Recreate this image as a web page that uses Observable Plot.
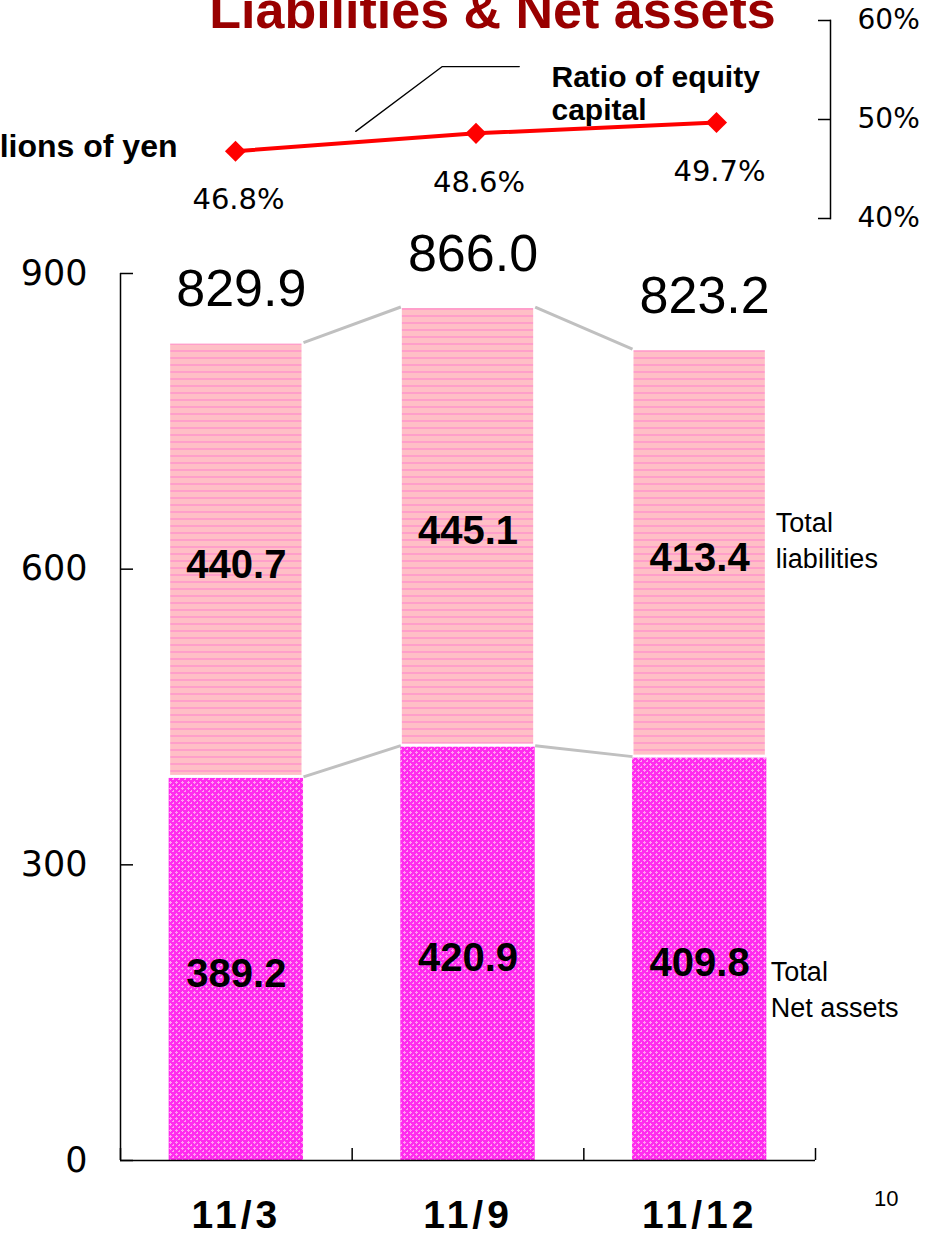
<!DOCTYPE html>
<html>
<head>
<meta charset="utf-8">
<script src="https://cdn.jsdelivr.net/npm/d3@7"></script>
<script src="https://cdn.jsdelivr.net/npm/@observablehq/plot@0.6"></script>
<style>
  html, body { margin: 0; padding: 0; background: #fff; overflow: hidden; }
  body { width: 928px; height: 1238px; position: relative; color: #000; font-family: "Liberation Sans", Arial, sans-serif; }
  #bars, #ratio { position: absolute; left: 0; top: 0; }
  #page { position: absolute; left: 874px; top: 1186px; font-size: 22px; }
</style>
</head>
<body>
<div id="bars"></div>
<div id="ratio"></div>
<div id="page">10</div>
<script>
// ---- data ----
const periods = ["11/3", "11/9", "11/12"];
const netAssets = [389.2, 420.9, 409.8];
const liabilities = [440.7, 445.1, 413.4];
const totals = [829.9, 866.0, 823.2];
const equityRatio = [46.8, 48.6, 49.7];
const yTicks = [0, 300, 600, 900];
const ratioTicks = [40, 50, 60];
const title = "Liabilities & Net assets";
const unitLabel = "Billions of yen";
const ratioLabel = "Ratio of equity\ncapital";
const liabLabel = "Total\nliabilities";
const netLabel = "Total\nNet assets";
// callout leader for the ratio label (in ratio-chart data units)
const calloutX = [0.5, 0.86, 1.18];
const calloutY = [48.8, 55.35, 55.35];

const rows = periods.map((p, i) => ({i, period: p, net: netAssets[i], liab: liabilities[i], total: totals[i]}));
const pairs = rows.slice(0, -1).map(d => ({a: d, b: rows[d.i + 1]}));
const ratioRows = periods.map((p, i) => ({i, period: p, ratio: equityRatio[i]}));
const callout = calloutX.map((x, k) => ({x, y: calloutY[k]}));
const hw = 0.29; // half bar width in category units
const bounds = d3.range(-0.5, periods.length, 1);

// ---- bar chart ----
const bars = Plot.plot({
  width: 928, height: 1238,
  marginLeft: 120, marginRight: 113, marginTop: 273, marginBottom: 78,
  style: {background: "transparent", fontFamily: "Liberation Sans, Arial, sans-serif", overflow: "visible"},
  x: {type: "linear", domain: [-0.5, periods.length - 0.5]},
  y: {domain: [0, 900]},
  marks: [
    Plot.rect(rows, {x1: d => d.i - hw, x2: d => d.i + hw, y1: 0, y2: "net", fill: "url(#netPat)"}),
    Plot.rect(rows, {x1: d => d.i - hw, x2: d => d.i + hw, y1: "net", y2: "total", fill: "url(#liabPat)", stroke: "white", strokeWidth: 3}),
    Plot.link(pairs, {x1: d => d.a.i + hw, y1: d => d.a.total, x2: d => d.b.i - hw, y2: d => d.b.total, stroke: "#c0c0c0", strokeWidth: 3}),
    Plot.link(pairs, {x1: d => d.a.i + hw, y1: d => d.a.net, x2: d => d.b.i - hw, y2: d => d.b.net, stroke: "#c0c0c0", strokeWidth: 3}),
    Plot.ruleX([-0.5], {y1: 0, y2: 900, stroke: "#000", strokeWidth: 1.5}),
    Plot.ruleY([0], {x1: -0.5, x2: periods.length - 0.5, stroke: "#000", strokeWidth: 1.5}),
    Plot.axisY({ticks: yTicks, tickSize: -13, tickPadding: 46, strokeWidth: 1.5, fontSize: 35, fontFamily: "DejaVu Sans", label: null, tickFormat: d => String(d)}),
    Plot.axisX({ticks: bounds, tickSize: -12, strokeWidth: 1.5, tickFormat: () => "", label: null}),
    Plot.axisX({ticks: d3.range(periods.length), tickSize: 0, tickPadding: 40, tickFormat: i => periods[i], fontSize: 39, fontWeight: "bold", label: null}),
    Plot.text(rows, {x: "i", y: d => d.net / 2, text: d => d.net.toFixed(1), dy: 5, fontSize: 40, fontWeight: "bold"}),
    Plot.text(rows, {x: "i", y: d => d.net + d.liab / 2, text: d => d.liab.toFixed(1), dy: 5, fontSize: 40, fontWeight: "bold"}),
    Plot.text(rows, {x: "i", y: "total", text: d => d.total.toFixed(1), dx: 5, dy: -53, fontSize: 52}),
    Plot.text([liabLabel], {x: () => rows[2].i + hw, y: () => rows[2].net + rows[2].liab / 2, textAnchor: "start", dx: 9, dy: -14, fontSize: 27, lineHeight: 1.33}),
    Plot.text([netLabel], {x: () => rows[2].i + hw, y: () => rows[2].net / 2, textAnchor: "start", dx: 4, dy: 29, fontSize: 27, lineHeight: 1.33})
  ]
});

const defs = d3.select(bars).insert("defs", ":first-child");
const lp = defs.append("pattern").attr("id", "liabPat").attr("patternUnits", "userSpaceOnUse").attr("width", 8).attr("height", 7);
lp.append("rect").attr("width", 8).attr("height", 7).attr("fill", "#ffbfc6");
lp.append("rect").attr("y", 0).attr("width", 8).attr("height", 2).attr("fill", "#ff9fca");
const np = defs.append("pattern").attr("id", "netPat").attr("patternUnits", "userSpaceOnUse").attr("width", 6).attr("height", 6);
np.append("rect").attr("width", 6).attr("height", 6).attr("fill", "#ff2cee");
np.append("rect").attr("x", 2).attr("y", 1).attr("width", 1).attr("height", 3).attr("fill", "#ff9ff0");
np.append("rect").attr("x", 1).attr("y", 2).attr("width", 3).attr("height", 1).attr("fill", "#ff9ff0");
np.append("rect").attr("x", 5).attr("y", 4).attr("width", 1).attr("height", 3).attr("fill", "#ff9ff0");
np.append("rect").attr("x", 4).attr("y", 5).attr("width", 3).attr("height", 1).attr("fill", "#ff9ff0");
d3.select(bars).selectAll('g[aria-label="x-axis tick label"] text').style("letter-spacing", "4px");
document.getElementById("bars").append(bars);

// ---- ratio line chart ----
const ratio = Plot.plot({
  width: 928, height: 240,
  marginLeft: 0, marginRight: 98, marginTop: 20, marginBottom: 22,
  style: {background: "transparent", fontFamily: "Liberation Sans, Arial, sans-serif", overflow: "visible"},
  x: {type: "linear", domain: [0, periods.length - 1], range: [235, 716], axis: null},
  y: {domain: [40, 60]},
  marks: [
    Plot.frame({anchor: "right", stroke: "#000", strokeWidth: 1.5}),
    Plot.axisY({anchor: "right", ticks: ratioTicks, tickFormat: d => d + "%", tickSize: -13, tickPadding: 40, strokeWidth: 1.5, fontSize: 28, fontFamily: "DejaVu Sans", label: null}),
    Plot.line(callout, {x: "x", y: "y", stroke: "#000", strokeWidth: 1.3}),
    Plot.line(ratioRows, {x: "i", y: "ratio", stroke: "#ff0000", strokeWidth: 4}),
    Plot.dot(ratioRows, {x: "i", y: "ratio", symbol: "diamond2", fill: "#ff0000", r: 9.5}),
    Plot.text(ratioRows, {x: "i", y: "ratio", text: d => d.ratio.toFixed(1) + "%", dx: 3, dy: 49, fontSize: 29, fontFamily: "DejaVu Sans"}),
    Plot.text([title], {frameAnchor: "top-left", textAnchor: "middle", lineAnchor: "middle", dx: 492, dy: -9, fill: "#990000", fontWeight: "bold", fontSize: 52}),
    Plot.text([unitLabel], {frameAnchor: "top-left", textAnchor: "end", lineAnchor: "middle", dx: 177, dy: 126, fontWeight: "bold", fontSize: 32}),
    Plot.text([ratioLabel], {frameAnchor: "top-left", textAnchor: "start", lineAnchor: "middle", dx: 551, dy: 72, fontWeight: "bold", fontSize: 30, lineHeight: 1.1})
  ]
});
document.getElementById("ratio").append(ratio);
</script>
</body>
</html>
